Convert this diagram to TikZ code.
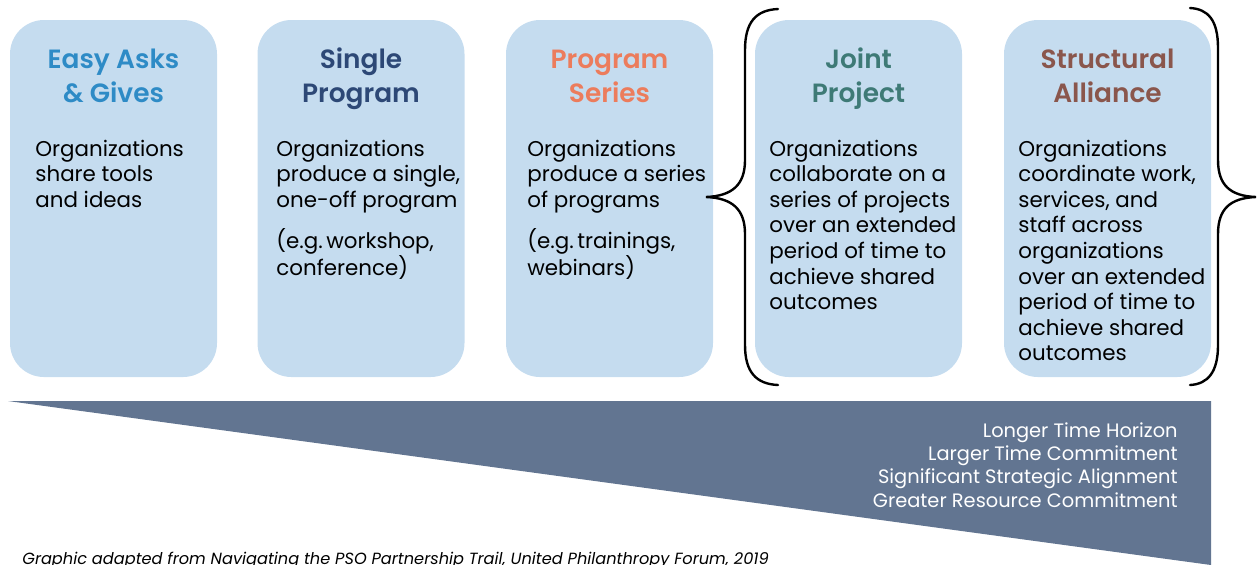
\documentclass[tikz,border=0pt]{standalone}
\usepackage{fontspec}
\setmainfont{Poppins}[BoldFont={Poppins SemiBold}]
\usepackage{tikz}
\usetikzlibrary{positioning}

\definecolor{boxfill}{RGB}{197,220,239}
\definecolor{easyc}{RGB}{46,139,198}
\definecolor{singlec}{RGB}{45,72,118}
\definecolor{seriesc}{RGB}{236,124,92}
\definecolor{jointc}{RGB}{62,122,118}
\definecolor{allyc}{RGB}{138,86,76}
\definecolor{wedgec}{RGB}{98,117,145}

\begin{document}
\begin{tikzpicture}[x=0.5pt, y=-0.5pt,
        stage/.style = {fill=boxfill, rounded corners=17pt, minimum width=103.5pt, minimum height=178.5pt, inner sep=0pt},
        title/.style = {align=center, inner sep=0pt, font=\fontsize{13.2}{17}\selectfont\bfseries},
        body/.style = {anchor=north west, align=left, inner sep=0pt, font=\fontsize{10.7}{12.8}\selectfont},
        curly/.style = {line width=1.2pt, line cap=round}]
    \useasboundingbox (0,0) rectangle (1257,564);
    \clip (0,0) rectangle (1257,564);

    % the five stages
    \foreach \i/\cx in {1/113.5, 2/361, 3/609.5, 4/858.5, 5/1107.5}
        \node [stage] (b\i) at (\cx,198.5) {};

    \node [title, text=easyc]   (t1) at (113.5,79)  {Easy Asks\strut\\\& Gives\strut};
    \node [title, text=singlec] (t2) at (361,79)    {Single\strut\\Program\strut};
    \node [title, text=seriesc] (t3) at (609.5,79)  {Program\strut\\Series\strut};
    \node [title, text=jointc]  (t4) at (858.5,79)  {Joint\strut\\Project\strut};
    \node [title, text=allyc]   (t5) at (1107.5,79) {Structural\strut\\Alliance\strut};

    \node [body] (d1) at (35,139.5)   {Organizations\\share tools\\and ideas};
    \node [body] (d2) at (276,139.5)  {Organizations\\produce a single,\\one-off program\\[6.5pt](e.g.\,workshop,\\conference)};
    \node [body] (d3) at (527,139.5)  {Organizations\\produce a series\\of programs\\[6.5pt](e.g.\,trainings,\\webinars)};
    \node [body] (d4) at (769,139.5)  {Organizations\\collaborate on a\\series of projects\\over an extended\\period of time to\\achieve shared\\outcomes};
    \node [body] (d5) at (1018,139.5) {Organizations\\coordinate work,\\services, and\\staff across\\organizations\\over an extended\\period of time to\\achieve shared\\outcomes};

    % braces round the last two
    \draw [curly] (778,9) .. controls (756,10) and (745,22) .. (745,50) -- (745,160)
        .. controls (745,185) and (732,196) .. (706,197)
        .. controls (732,198) and (745,209) .. (745,234) -- (745,345)
        .. controls (745,372) and (756,384) .. (778,385);
    \draw [curly] (1190,8) .. controls (1208,9) and (1218,20) .. (1218,48) -- (1218,160)
        .. controls (1218,185) and (1230,196) .. (1256,197)
        .. controls (1230,198) and (1218,209) .. (1218,234) -- (1218,345)
        .. controls (1218,372) and (1208,384) .. (1190,385);

    % growing commitment
    \fill [wedgec] (8,401) -- (1211,401) -- (1211,565) -- cycle;
    \node [anchor=north east, align=right, inner sep=0pt, text=white,
           font=\fontsize{9.7}{11.7}\selectfont] (scale) at (1178,422)
        {Longer Time Horizon\\Larger Time Commitment\\Significant Strategic Alignment\\Greater Resource Commitment};

    \node [anchor=base west, inner sep=0pt, font=\fontsize{8.1}{10}\selectfont\itshape] (src) at (22,564)
        {Graphic adapted from Navigating the PSO Partnership Trail, United Philanthropy Forum, 2019};
\end{tikzpicture}
\end{document}
